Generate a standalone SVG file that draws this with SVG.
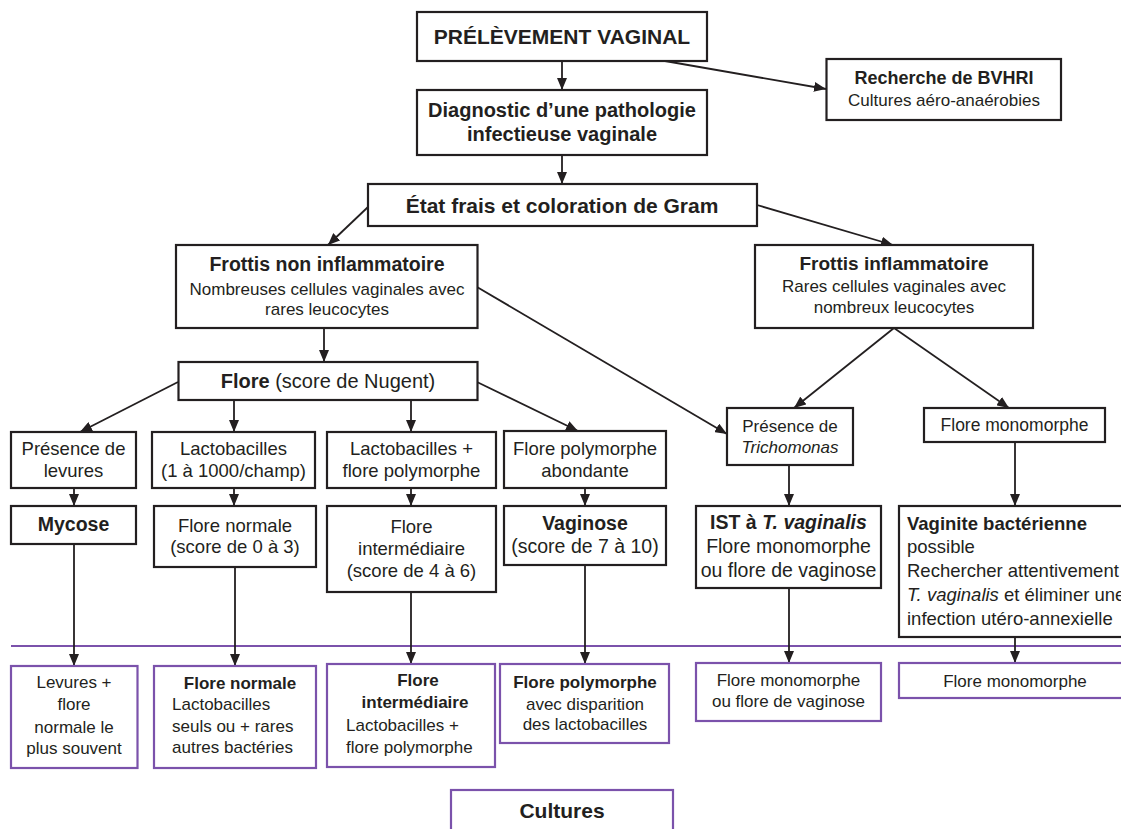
<svg xmlns="http://www.w3.org/2000/svg" width="1121" height="829" viewBox="0 0 1121 829">
<style>
text{font-family:"Liberation Sans",Arial,sans-serif;fill:#231f20}
.b{font-weight:bold}
.i{font-style:italic}
.m{text-anchor:middle}
.box{fill:#fff;stroke:#231f20;stroke-width:2.2}
.pbox{fill:#fff;stroke:#7b52ab;stroke-width:2.2}
.c{stroke:#231f20;stroke-width:1.8;fill:none;marker-end:url(#ah)}
.f21{font-size:21px}.f20{font-size:20px}.f19{font-size:19.5px}.f185{font-size:18.5px}.f18{font-size:18px}.f17{font-size:17px}
</style>
<defs>
<marker id="ah" markerUnits="userSpaceOnUse" markerWidth="12" markerHeight="10" refX="12" refY="5" orient="auto">
<path d="M0,0 L12,5 L0,10 z" fill="#231f20"/>
</marker>
</defs>
<rect width="1121" height="829" fill="#fff"/>
<line x1="11" y1="646" x2="1121" y2="646" stroke="#7b52ab" stroke-width="2"/>
<g id="connectors">
<line class="c" x1="562" y1="61" x2="562" y2="90"/>
<line class="c" x1="562" y1="155" x2="562" y2="184"/>
<line class="c" x1="665" y1="61" x2="826" y2="89"/>
<line class="c" x1="368" y1="207" x2="328" y2="245"/>
<line class="c" x1="757" y1="205" x2="893" y2="245"/>
<line class="c" x1="324" y1="328" x2="324" y2="362"/>
<line class="c" x1="477" y1="287" x2="727" y2="434"/>
<line class="c" x1="894" y1="328" x2="794" y2="408"/>
<line class="c" x1="894" y1="328" x2="1009" y2="408"/>
<line class="c" x1="178" y1="382" x2="80" y2="432"/>
<line class="c" x1="234" y1="400" x2="234" y2="432"/>
<line class="c" x1="411" y1="400" x2="411" y2="432"/>
<line class="c" x1="477" y1="382" x2="578" y2="431"/>
<line class="c" x1="74" y1="488" x2="74" y2="506"/>
<line class="c" x1="234" y1="488" x2="234" y2="506"/>
<line class="c" x1="411" y1="488" x2="411" y2="506"/>
<line class="c" x1="585" y1="488" x2="585" y2="506"/>
<line class="c" x1="789" y1="465" x2="789" y2="506"/>
<line class="c" x1="1015" y1="442" x2="1015" y2="506"/>
<line class="c" x1="74" y1="544" x2="74" y2="666"/>
<line class="c" x1="235" y1="567" x2="235" y2="666"/>
<line class="c" x1="411" y1="592" x2="411" y2="664"/>
<line class="c" x1="585" y1="565" x2="585" y2="664"/>
<line class="c" x1="789" y1="588" x2="789" y2="663"/>
<line class="c" x1="1015" y1="637" x2="1015" y2="663"/>
</g>
<g id="prelevement">
<rect class="box" x="417" y="12" width="290" height="49"/>
<text class="b m f21" x="562" y="44">PRÉLÈVEMENT VAGINAL</text>
</g>
<g id="recherche">
<rect class="box" x="826.5" y="59" width="234.5" height="61"/>
<text class="b m f18" x="944" y="84">Recherche de BVHRI</text>
<text class="m f17" x="944" y="106">Cultures aéro-anaérobies</text>
</g>
<g id="diagnostic">
<rect class="box" x="417" y="90" width="290" height="65"/>
<text class="b m f20" x="562" y="117">Diagnostic d’une pathologie</text>
<text class="b m f20" x="562" y="141">infectieuse vaginale</text>
</g>
<g id="etat">
<rect class="box" x="368" y="184" width="389" height="42"/>
<text class="b m f21" x="562" y="213">État frais et coloration de Gram</text>
</g>
<g id="frottis-non">
<rect class="box" x="176" y="245" width="301.5" height="83"/>
<text class="b m" style="font-size:19.5px" x="327" y="271">Frottis non inflammatoire</text>
<text class="m f17" x="327" y="295">Nombreuses cellules vaginales avec</text>
<text class="m f17" x="327" y="315">rares leucocytes</text>
</g>
<g id="frottis-inf">
<rect class="box" x="755" y="245" width="278" height="83"/>
<text class="b m" style="font-size:19px" x="894" y="270">Frottis inflammatoire</text>
<text class="m f17" x="894" y="292">Rares cellules vaginales avec</text>
<text class="m f17" x="894" y="313">nombreux leucocytes</text>
</g>
<g id="flore">
<rect class="box" x="178.5" y="362" width="299" height="38"/>
<text class="m f20" x="328" y="388"><tspan class="b">Flore</tspan> (score de Nugent)</text>
</g>
<g id="levures">
<rect class="box" x="11" y="432" width="125" height="56"/>
<text class="m f185" x="73.5" y="455">Présence de</text>
<text class="m f185" x="73.5" y="477">levures</text>
</g>
<g id="lacto1">
<rect class="box" x="152" y="432" width="163" height="56"/>
<text class="m f185" x="233.5" y="455">Lactobacilles</text>
<text class="m f185" x="233.5" y="477">(1 à 1000/champ)</text>
</g>
<g id="lacto2">
<rect class="box" x="327" y="432" width="169" height="56"/>
<text class="m f185" x="411.5" y="455">Lactobacilles +</text>
<text class="m f185" x="411.5" y="477">flore polymorphe</text>
</g>
<g id="polymorphe">
<rect class="box" x="504" y="431" width="162" height="57"/>
<text class="m f185" x="585" y="455">Flore polymorphe</text>
<text class="m f185" x="585" y="477">abondante</text>
</g>
<g id="trichomonas">
<rect class="box" x="727" y="408" width="126" height="57"/>
<text class="m f17" x="790" y="432">Présence de</text>
<text class="m i f17" x="790" y="453">Trichomonas</text>
</g>
<g id="flore-mono">
<rect class="box" x="924" y="408" width="181" height="34"/>
<text class="m" style="font-size:17.5px" x="1014.5" y="431">Flore monomorphe</text>
</g>
<g id="mycose">
<rect class="box" x="11" y="506" width="125" height="38"/>
<text class="b m f19" x="73.5" y="531">Mycose</text>
</g>
<g id="flore-normale">
<rect class="box" x="154" y="506" width="162" height="61"/>
<text class="m f185" x="235" y="532">Flore normale</text>
<text class="m f185" x="235" y="553">(score de 0 à 3)</text>
</g>
<g id="flore-inter">
<rect class="box" x="327" y="506" width="169" height="86"/>
<text class="m f185" x="411.5" y="533">Flore</text>
<text class="m f185" x="411.5" y="555">intermédiaire</text>
<text class="m f185" x="411.5" y="577">(score de 4 à 6)</text>
</g>
<g id="vaginose">
<rect class="box" x="504" y="506" width="162" height="59"/>
<text class="b m f19" x="585" y="530">Vaginose</text>
<text class="m f19" x="585" y="553">(score de 7 à 10)</text>
</g>
<g id="ist">
<rect class="box" x="696" y="506" width="185" height="82"/>
<text class="b m f19" x="788.5" y="529">IST à <tspan class="i">T. vaginalis</tspan></text>
<text class="m f19" x="788.5" y="553">Flore monomorphe</text>
<text class="m f19" x="788.5" y="577">ou flore de vaginose</text>
</g>
<g id="vaginite">
<rect class="box" x="899" y="506" width="240" height="131"/>
<text class="b f185" x="907" y="530">Vaginite bactérienne</text>
<text class="f185" x="907" y="553">possible</text>
<text class="f185" x="907" y="577">Rechercher attentivement</text>
<text class="f185" x="907" y="601"><tspan class="i">T. vaginalis</tspan> et éliminer une</text>
<text class="f185" x="907" y="625">infection utéro-annexielle</text>
</g>
<g id="res-levures">
<rect class="pbox" x="11" y="666" width="126.5" height="102"/>
<text class="m f17" x="74" y="688">Levures +</text>
<text class="m f17" x="74" y="710">flore</text>
<text class="m f17" x="74" y="733">normale le</text>
<text class="m f17" x="74" y="754">plus souvent</text>
</g>
<g id="res-normale">
<rect class="pbox" x="154" y="666" width="162" height="102"/>
<text class="b m f17" x="240" y="689">Flore normale</text>
<text class="f17" x="172" y="710">Lactobacilles</text>
<text class="f17" x="172" y="732">seuls ou + rares</text>
<text class="f17" x="172" y="753">autres bactéries</text>
</g>
<g id="res-inter">
<rect class="pbox" x="327" y="664" width="168" height="103"/>
<text class="b m f17" x="418" y="686">Flore</text>
<text class="b m f17" x="415" y="708">intermédiaire</text>
<text class="f17" x="346" y="731">Lactobacilles +</text>
<text class="f17" x="346" y="753">flore polymorphe</text>
</g>
<g id="res-polymorphe">
<rect class="pbox" x="500" y="664" width="169" height="79"/>
<text class="b m f17" x="585" y="688">Flore polymorphe</text>
<text class="m f17" x="585" y="710">avec disparition</text>
<text class="m f17" x="585" y="730">des lactobacilles</text>
</g>
<g id="res-trich">
<rect class="pbox" x="696" y="663" width="185" height="58"/>
<text class="m f17" x="788.5" y="686">Flore monomorphe</text>
<text class="m f17" x="788.5" y="707">ou flore de vaginose</text>
</g>
<g id="res-mono">
<rect class="pbox" x="899" y="663" width="240" height="35"/>
<text class="m f17" x="1015" y="687">Flore monomorphe</text>
</g>
<g id="cultures">
<rect class="pbox" x="451" y="790" width="222" height="60"/>
<text class="b m f21" x="562" y="818">Cultures</text>
</g>
</svg>
